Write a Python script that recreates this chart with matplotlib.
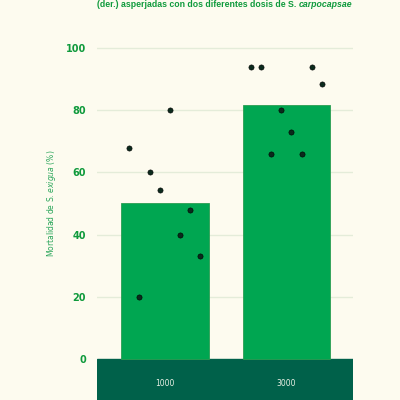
import matplotlib
matplotlib.use("Agg")
from matplotlib import pyplot as plt
import numpy as np

# data
doses = ["1000", "3000"]
bar_means = [50.0, 81.7]
pts_1000 = [67.7, 20.0, 60.0, 54.3, 80.0, 40.0, 48.0, 33.0]
pts_3000 = [94.0, 94.0, 66.0, 80.0, 73.0, 66.0, 94.0, 88.4]

bg = "#fdfbef"
green = "#00a651"
dark = "#00614a"
txt_green = "#0f9a3c"

fig = plt.figure(figsize=(4, 4), dpi=100)
fig.patch.set_facecolor(bg)
ax = fig.add_axes([0.2425, 0.0, 0.64, 0.919])
ax.set_facecolor(bg)

x = np.arange(len(doses))
ax.set_xlim(-0.557, 1.548)
ax.set_ylim(-13.2, 105)

# grid
for v in range(20, 101, 20):
    ax.axhline(v, color="#e4ecd9", lw=1.0, zorder=0)

# dark band for the x axis
ax.axhspan(-13.2, 0, color=dark, zorder=1)

ax.bar(x, bar_means, width=0.72, color=green, edgecolor="#2a9d52", linewidth=0.6, zorder=2)

# dots spread across each bar
offs = (np.arange(8) - 3.5) * 0.0833
for i, pts in enumerate([pts_1000, pts_3000]):
    ax.scatter(x[i] + offs, pts, s=14, color="#0b2a1c", edgecolors="#000000",
               linewidths=0.4, zorder=3)

for i, lab in enumerate(doses):
    ax.text(x[i], -7.9, lab, color="#e8f0e4", fontsize=5.5, ha="center", va="center", zorder=4)

ax.set_yticks(range(0, 101, 20))
ax.set_yticklabels([str(v) for v in range(0, 101, 20)], color=txt_green,
                   fontsize=7, fontweight="bold")
ax.set_xticks([])
ax.tick_params(axis="y", length=0, pad=8)
for s in ax.spines.values():
    s.set_visible(False)

fig.text(52 / 400, 1 - 203.5 / 400, r"Mortalidad de S. $\it{exigua}$ (%)",
         rotation=90, color="#2aa55a", fontsize=5.5, ha="center", va="center")

# title line: bold part + bold italic species name, fitted to the axes width
fam = "Liberation Sans"
fs = 7.0
ypos = 1 - 4.5 / 400
t1 = fig.text(97 / 400, ypos, "(der.) asperjadas con dos diferentes dosis de S. ",
              color=txt_green, fontsize=fs, fontweight="bold", family=fam,
              ha="left", va="center")
t3 = fig.text(0, ypos, "carpocapsae", color=txt_green, fontsize=fs,
              fontweight="bold", style="italic", family=fam, ha="left", va="center")
r = fig.canvas.get_renderer()
w = t1.get_window_extent(r).width + t3.get_window_extent(r).width
fs = fs * 256 / w
t1.set_fontsize(fs)
t3.set_fontsize(fs)
w1 = t1.get_window_extent(r).width
t3.set_x((97 + w1) / 400)

fig.savefig("out.png", dpi=100, facecolor=bg)
